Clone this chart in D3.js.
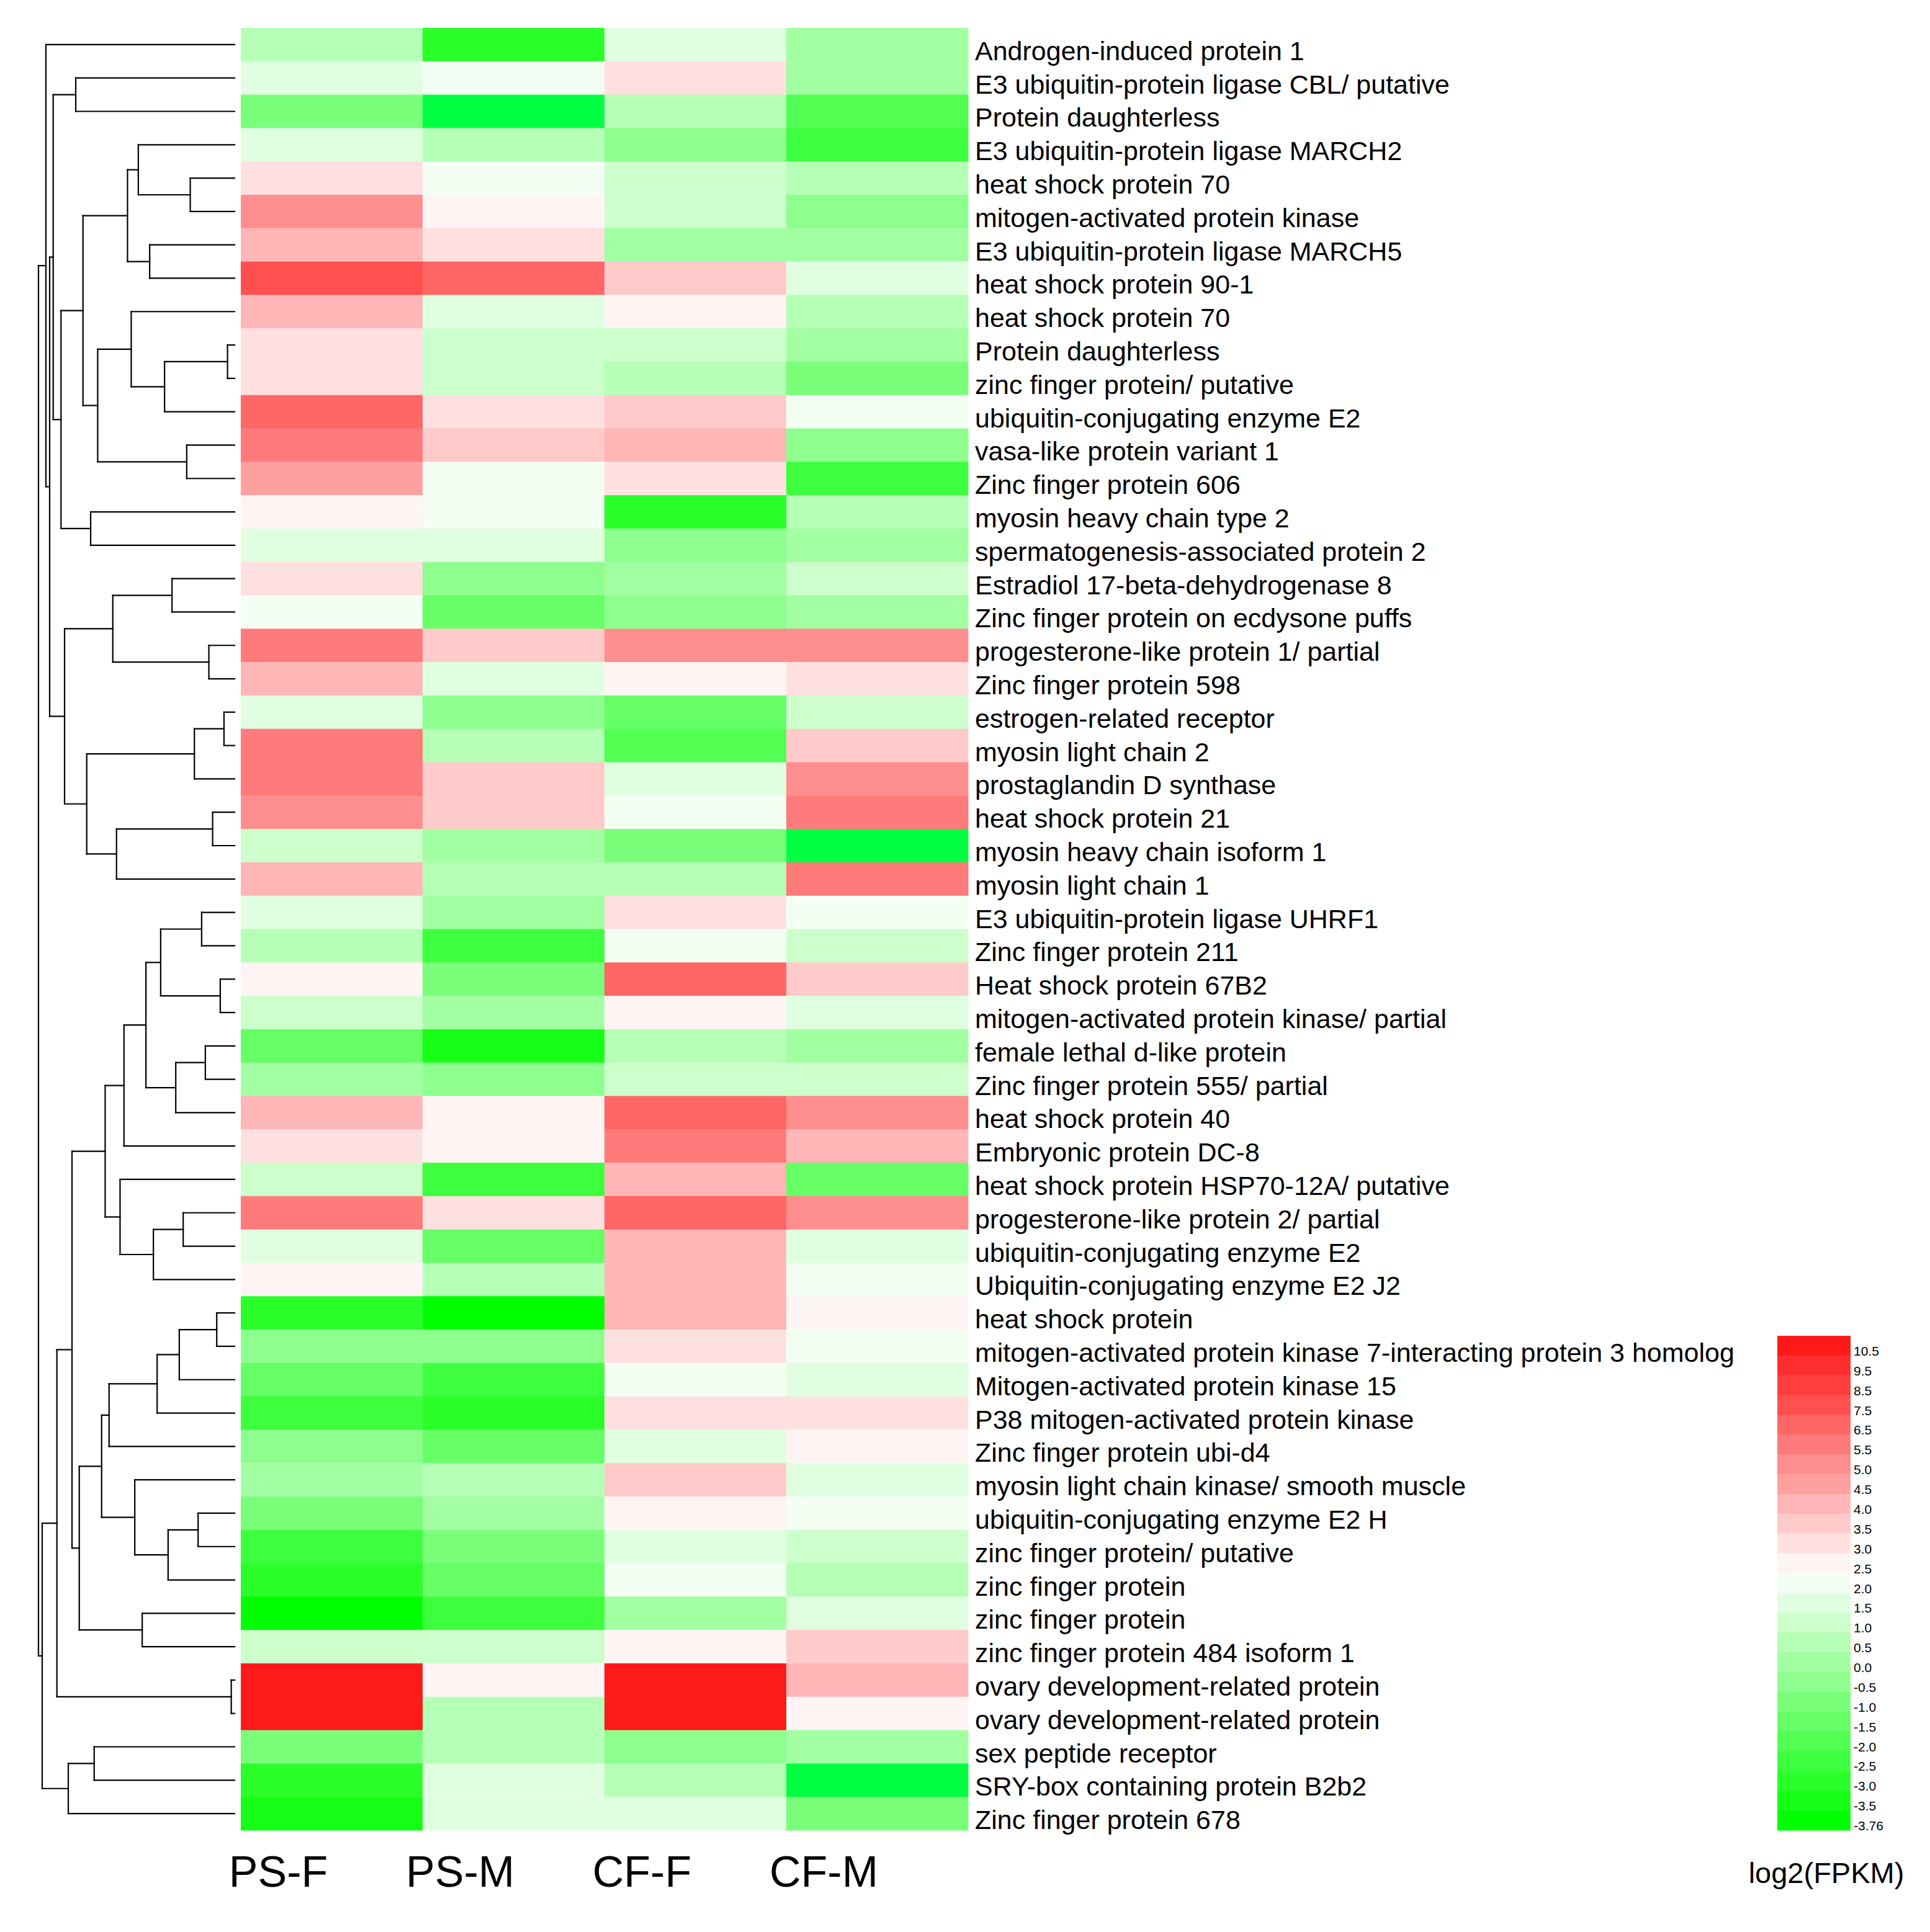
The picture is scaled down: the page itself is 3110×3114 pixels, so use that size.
<!DOCTYPE html>
<html><head><meta charset="utf-8">
<script src="https://cdn.jsdelivr.net/npm/d3@7"></script>
<style>body{margin:0;background:#fff}svg{display:block}text{font-family:"Liberation Sans",Arial,sans-serif;fill:#000}</style>
</head><body><div id="chart"></div>
<script>
const samples = ["PS-F","PS-M","CF-F","CF-M"];
const genes = ["Androgen-induced protein 1","E3 ubiquitin-protein ligase CBL/ putative","Protein daughterless","E3 ubiquitin-protein ligase MARCH2","heat shock protein 70","mitogen-activated protein kinase","E3 ubiquitin-protein ligase MARCH5","heat shock protein 90-1","heat shock protein 70","Protein daughterless","zinc finger protein/ putative","ubiquitin-conjugating enzyme E2","vasa-like protein variant 1","Zinc finger protein 606","myosin heavy chain type 2","spermatogenesis-associated protein 2","Estradiol 17-beta-dehydrogenase 8","Zinc finger protein on ecdysone puffs","progesterone-like protein 1/ partial","Zinc finger protein 598","estrogen-related receptor","myosin light chain 2","prostaglandin D synthase","heat shock protein 21","myosin heavy chain isoform 1","myosin light chain 1","E3 ubiquitin-protein ligase UHRF1","Zinc finger protein 211","Heat shock protein 67B2","mitogen-activated protein kinase/ partial","female lethal d-like protein","Zinc finger protein 555/ partial","heat shock protein 40","Embryonic protein DC-8","heat shock protein HSP70-12A/ putative","progesterone-like protein 2/ partial","ubiquitin-conjugating enzyme E2","Ubiquitin-conjugating enzyme E2 J2","heat shock protein","mitogen-activated protein kinase 7-interacting protein 3 homolog","Mitogen-activated protein kinase 15","P38 mitogen-activated protein kinase","Zinc finger protein ubi-d4","myosin light chain kinase/ smooth muscle","ubiquitin-conjugating enzyme E2 H","zinc finger protein/ putative","zinc finger protein","zinc finger protein","zinc finger protein 484 isoform 1","ovary development-related protein","ovary development-related protein","sex peptide receptor","SRY-box containing protein B2b2","Zinc finger protein 678"];
const psF = [0.5,1.5,-1.0,1.5,3.0,5.0,4.0,7.5,4.0,3.0,3.0,6.5,5.5,4.5,2.5,1.5,3.0,2.0,5.5,4.0,1.5,5.5,5.5,5.0,1.0,4.0,1.5,0.5,2.5,1.0,-1.5,0.0,4.0,3.0,1.0,5.5,1.5,2.5,-3.0,-0.5,-1.5,-2.5,-0.5,0.0,-1.0,-2.5,-3.0,-3.76,1.0,10.5,10.5,-1.0,-3.0,-3.5];
const psM = [-3.0,2.0,-4.0,0.5,2.0,2.5,3.0,6.5,1.5,1.0,1.0,3.0,3.5,2.0,2.0,1.5,-0.5,-1.5,3.5,1.5,-0.5,0.5,3.5,3.5,0.0,0.5,0.0,-2.5,-1.0,0.0,-3.5,-0.5,2.5,2.5,-2.5,3.0,-1.5,0.5,-3.76,-0.5,-2.5,-3.0,-1.5,0.5,0.0,-1.0,-1.5,-2.5,1.0,2.5,0.5,0.5,1.5,1.5];
const cfF = [1.5,3.0,0.5,-0.5,1.0,1.0,0.0,3.5,2.5,1.0,0.5,3.5,4.0,3.0,-3.0,-0.5,0.0,-0.5,5.0,2.5,-1.5,-2.0,1.5,2.0,-1.0,0.5,3.0,2.0,6.5,2.5,0.5,1.0,6.5,5.5,4.0,6.5,4.0,4.0,4.0,3.0,2.0,3.0,1.5,3.5,2.5,1.5,2.0,0.0,2.5,10.5,10.5,-0.5,0.5,1.5];
const cfM = [0.0,0.0,-2.0,-2.5,0.5,-0.5,0.0,1.5,0.5,0.0,-1.0,2.0,-0.5,-2.5,0.5,0.0,1.0,0.0,5.0,3.0,1.0,3.5,5.0,5.5,-4.0,5.5,2.0,1.0,3.5,1.5,0.0,1.0,5.0,4.0,-1.5,5.0,1.5,2.0,2.5,2.0,1.5,3.0,2.5,1.5,2.0,1.0,0.5,1.5,3.5,4.0,2.5,0.0,-4.0,-1.0];
const legendLabels = ["10.5","9.5","8.5","7.5","6.5","5.5","5.0","4.5","4.0","3.5","3.0","2.5","2.0","1.5","1.0","0.5","0.0","-0.5","-1.0","-1.5","-2.0","-2.5","-3.0","-3.5","-3.76"];
const legendColors = ["#ff1a1a","#ff2e2e","#ff3e3e","#ff5050","#ff6666","#ff7a7a","#ff8e8e","#ffa0a0","#ffb6b6","#ffcaca","#ffe0e0","#fff4f4","#f4fff4","#e0ffe0","#ccffcc","#b6ffb6","#a2ffa2","#8eff8e","#7aff7a","#66ff66","#52ff52","#3eff3e","#2aff2a","#16ff16","#00ff00"];
const belowMinColor = "#00ff40";
// dendrogram: [mergeHeight, left, right]; leaves are row indices
const tree = [1.000,
 [0.962, 0,
  [0.943,
   [0.925,
    [0.810, 1, 2],
    [0.885,
     [0.773,
      [0.546, [0.491, 3, [0.226, 4, 5]], [0.433, 6, 7]],
      [0.698, [0.527, 8, [0.357, [0.036, 9, 10], 11]], [0.244, 12, 13]]],
     [0.734, 14, 15]]],
   [0.867,
    [0.621, [0.319, 16, 17], [0.131, 18, 19]],
    [0.754, [0.205, [0.054, 20, 21], 22], [0.602, [0.112, 23, 24], 25]]]]],
 [0.981,
  [0.906,
   [0.829,
    [0.660,
     [0.564, [0.452, [0.377, [0.168, 26, 27], [0.073, 28, 29]], [0.300, [0.149, 30, 31], 32]], 33],
     [0.584, 34, [0.414, [0.262, 35, 36], 37]]],
    [0.792,
     [0.678,
      [0.640, [0.395, [0.282, [0.091, 38, 39], 40], 41], 42],
      [0.509, 43, [0.339, [0.186, 44, 45], 46]]],
     [0.471, 47, 48]]],
   [0.017, 49, 50]],
  [0.848, [0.716, 51, 52], 53]]];

const W = 3110, H = 3114;
const series = [psF, psM, cfF, cfM];
const svg = d3.select("#chart").append("svg").attr("width", W).attr("height", H);
svg.append("rect").attr("width", W).attr("height", H).attr("fill", "#fff");

const y = d3.scaleBand().domain(d3.range(genes.length)).range([45, 2950]);
const x = d3.scaleBand().domain(samples).range([388, 1560]);
const ascLabels = legendLabels.map(Number).slice().reverse();
const color = d3.scaleThreshold().domain(ascLabels)
  .range([belowMinColor].concat(legendColors.slice().reverse()));

// heatmap cells
const cells = [];
genes.forEach((g, i) => samples.forEach((s, j) => cells.push({i, s, v: series[j][i]})));
svg.append("g").selectAll("rect").data(cells).join("rect")
  .attr("x", d => x(d.s)).attr("y", d => y(d.i))
  .attr("width", x.bandwidth() + 0.5).attr("height", y.bandwidth() + 0.5)
  .attr("fill", d => color(d.v));

// row labels
svg.append("g").selectAll("text").data(genes).join("text")
  .attr("x", x.range()[1] + 11).attr("y", (d, i) => y(i) + y.bandwidth() / 2 + 25)
  .attr("font-size", 43).text(d => d);

// column labels
svg.append("g").selectAll("text").data(samples).join("text")
  .attr("x", d => x(d) + x.bandwidth() / 2 - 86).attr("y", 3041)
  .attr("text-anchor", "middle").attr("font-size", 70).text(d => d);

// dendrogram
const root = d3.hierarchy(tree, d => Array.isArray(d) ? d.slice(1) : null);
const hx = d3.scaleLinear().domain([0, 1]).range([378, 62]);
root.eachAfter(n => {
  if (n.children) {
    n.h = n.data[0];
    n.py = (n.children[0].py + n.children[n.children.length - 1].py) / 2;
  } else {
    n.h = 0;
    n.py = y(n.data) + y.bandwidth() / 2;
  }
});
const segs = [];
root.each(n => {
  if (n.children) {
    segs.push([hx(n.h), n.children[0].py, hx(n.h), n.children[n.children.length - 1].py]);
    n.children.forEach(c => segs.push([hx(n.h), c.py, hx(c.h), c.py]));
  }
});
svg.append("g").attr("stroke", "#000").attr("stroke-width", 2.2).attr("stroke-linecap", "square")
  .selectAll("line").data(segs).join("line")
  .attr("x1", d => d[0]).attr("y1", d => d[1]).attr("x2", d => d[2]).attr("y2", d => d[3]);

// legend
const ly = d3.scaleBand().domain(legendLabels).range([2153, 2950]);
const lg = svg.append("g");
lg.selectAll("rect").data(legendLabels).join("rect")
  .attr("x", 2864).attr("y", d => ly(d)).attr("width", 118).attr("height", ly.bandwidth() + 0.5)
  .attr("fill", (d, i) => legendColors[i]);
lg.selectAll("text").data(legendLabels).join("text")
  .attr("x", 2987).attr("y", d => ly(d) + ly.bandwidth() / 2 + 16)
  .attr("font-size", 21).text(d => d);
svg.append("text").attr("x", 2943).attr("y", 3035).attr("text-anchor", "middle")
  .attr("font-size", 47).text("log2(FPKM)");
</script></body></html>
